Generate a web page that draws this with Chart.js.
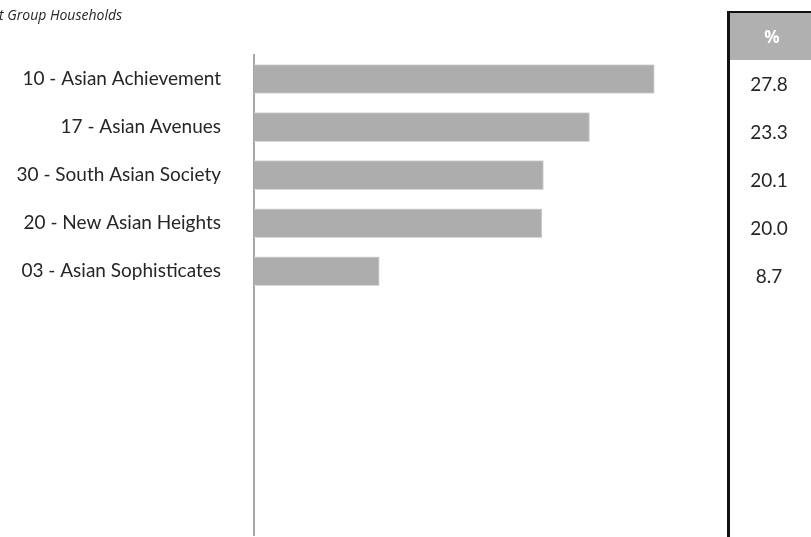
<!DOCTYPE html>
<html>
<head>
<meta charset="utf-8">
<script src="https://cdn.jsdelivr.net/npm/chart.js@4/dist/chart.umd.min.js"></script>
<style>
html,body{margin:0;padding:0;background:#fff;}
#wrap{position:relative;width:811px;height:537px;overflow:hidden;}
#c{position:absolute;left:0;top:0;}
#title{position:absolute;left:-1px;top:5px;font-family:"Open Sans",sans-serif;font-style:italic;font-size:14px;color:#262626;white-space:nowrap;}
#tbl{position:absolute;left:727px;top:11px;width:90px;height:540px;border-left:3px solid #111;border-top:2px solid #111;}
#tbl .hd{height:47px;background:#b0b0b0;color:#fff;font-family:"Open Sans",sans-serif;font-weight:700;font-size:17px;line-height:47px;text-align:center;padding-right:6px;}
#tbl .row{height:48px;line-height:48px;font-family:"Lato",sans-serif;font-weight:400;font-size:19px;color:#262626;text-align:center;padding-right:12px;}
</style>
</head>
<body>
<div id="wrap">
<canvas id="c" width="811" height="580"></canvas>
<div id="title">t Group Households</div>
<div id="tbl"></div>
</div>
<script>
const categories = ["10 - Asian Achievement","17 - Asian Avenues","30 - South Asian Society","20 - New Asian Heights","03 - Asian Sophisticates","","","","",""];
const percentValues = [27.8, 23.3, 20.1, 20.0, 8.7, null, null, null, null, null];
const tableHeader = "%";
const tableLabels = ["27.8","23.3","20.1","20.0","8.7"];

const tbl = document.getElementById('tbl');
const hd = document.createElement('div'); hd.className='hd'; hd.textContent = tableHeader; tbl.appendChild(hd);
tableLabels.forEach(t => { const r = document.createElement('div'); r.className='row'; r.textContent=t; tbl.appendChild(r); });

new Chart(document.getElementById('c'), {
  type: 'bar',
  data: {
    labels: categories,
    datasets: [{
      data: percentValues,
      backgroundColor: '#adadae',
      borderColor: '#d6d6d6',
      borderWidth: 1,
      borderSkipped: 'left',
      barThickness: 29
    }]
  },
  options: {
    indexAxis: 'y',
    responsive: false,
    animation: false,
    layout: { padding: { top: 55, bottom: 2, left: 0, right: 125 } },
    plugins: { legend: { display: false }, tooltip: { enabled: false } },
    scales: {
      x: { display: false, min: 0, max: 30 },
      y: {
        afterFit: s => { s.width = 254; },
        grid: { display: false, drawTicks: false },
        border: { display: true, color: '#a6a6a6', width: 2 },
        ticks: {
          padding: 33,
          color: '#262626',
          font: { family: 'Lato, sans-serif', size: 19, weight: 400 }
        }
      }
    }
  }
});
</script>
</body>
</html>
